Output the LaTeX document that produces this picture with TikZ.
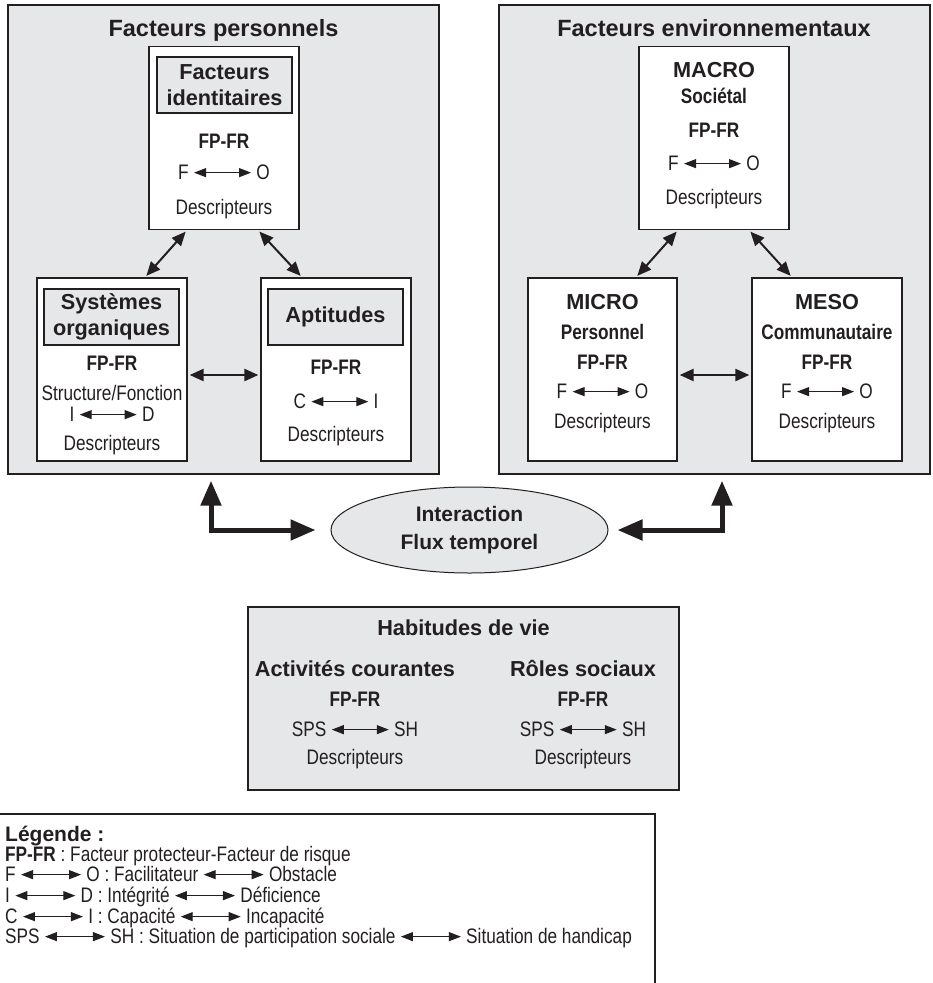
\documentclass[tikz,border=0pt]{standalone}
\usepackage{fontspec}
\setmainfont{Liberation Sans}
\newfontfamily\etroit{Liberation Sans}[FakeStretch=0.82]
\usetikzlibrary{arrows.meta,shapes.geometric}
\definecolor{encre}{RGB}{35,31,32}
\definecolor{fond}{RGB}{230,231,232}
\newcommand{\txtn}{\etroit\fontsize{21pt}{24pt}\selectfont}
\newcommand{\txth}{\rmfamily\bfseries\fontsize{21.7pt}{26pt}\selectfont}
\newcommand{\txtt}{\rmfamily\bfseries\fontsize{23.5pt}{28pt}\selectfont}
\newcommand{\txte}{\rmfamily\bfseries\fontsize{21pt}{28pt}\selectfont}
\newcommand{\fleche}[1][57pt]{\tikz[baseline=-7pt]\draw[fl] (0pt,0pt) -- (#1,0pt);}
\tikzset{
  cadre/.style={draw=encre,line width=1.3pt,fill=fond,minimum width=431pt,minimum height=469pt,inner sep=0pt},
  boite/.style={draw=encre,line width=1.3pt,fill=white,minimum width=150pt,minimum height=183pt,inner sep=0pt},
  entete/.style={draw=encre,line width=1.3pt,fill=fond,minimum width=135pt,minimum height=56pt,inner sep=0pt,align=center,text=encre,font=\txth},
  ligne/.style={anchor=mid,yshift=-4pt,inner sep=0pt,text=encre,font=\txtn},
  fl/.style={encre,line width=1.1pt,{Triangle[length=12pt,width=9pt]}-{Triangle[length=12pt,width=9pt]}},
  lien/.style={encre,line width=2pt,{Triangle[length=14pt,width=12pt]}-{Triangle[length=14pt,width=12pt]},shorten <=2pt,shorten >=2pt},
  epais/.style={encre,line width=5pt,{Triangle[length=25pt,width=20pt]}-{Triangle[length=25pt,width=20pt]}},
}
\begin{document}
\begin{tikzpicture}[x=1pt,y=-1pt]
\useasboundingbox (0,0) rectangle (933,983);
% grands cadres
\node[cadre] (perso) at (223.5,239.5) {};
\node[cadre] (envir) at (714.5,239.5) {};
\node[ligne,font=\txtt] (persoT) at (223.5,30) {Facteurs personnels};
\node[ligne,font=\txtt] (envirT) at (714,30) {Facteurs environnementaux};

% facteurs personnels
\node[boite] (ident) at (224,138) {};
\node[entete] (identT) at (224.5,85) {Facteurs\\identitaires};
\foreach \y/\t [count=\i] in {142/{\textbf{FP-FR}},173/{F \fleche{} O},208/{Descripteurs}}
  \node[ligne] (ident\i) at (224,\y) {\t};
\node[boite] (sys) at (112,369.5) {};
\node[entete] (sysT) at (111.5,317) {Systèmes\\organiques};
\foreach \y/\t [count=\i] in {364/{\textbf{FP-FR}},394/{Structure/Fonction},415/{I \fleche{} D},444/{Descripteurs}}
  \node[ligne] (sys\i) at (112,\y) {\t};
\node[boite] (apt) at (336,369.5) {};
\node[entete] (aptT) at (335.5,317) {Aptitudes};
\foreach \y/\t [count=\i] in {368/{\textbf{FP-FR}},402/{C \fleche{} I},435/{Descripteurs}}
  \node[ligne] (apt\i) at (336,\y) {\t};

\draw[lien] ([xshift=-37pt]ident.south) -- ([xshift=33pt]sys.north);
\draw[lien] ([xshift=34pt]ident.south) -- ([xshift=-34pt]apt.north);
\draw[lien,line width=2.5pt] ([yshift=-5.5pt]sys.east) -- ([yshift=-5.5pt]apt.west);

% facteurs environnementaux
\node[boite] (macro) at (714,138) {};
\foreach \y/\t [count=\i] in {71/{\txth MACRO},97/{\textbf{Sociétal}},131/{\textbf{FP-FR}},164/{F \fleche{} O},198/{Descripteurs}}
  \node[ligne] (macro\i) at (714,\y) {\t};
\node[boite,minimum width=149pt] (micro) at (602.5,369.5) {};
\foreach \y/\t [count=\i] in {303/{\txth MICRO},333/{\textbf{Personnel}},363/{\textbf{FP-FR}},392/{F \fleche{} O},422/{Descripteurs}}
  \node[ligne] (micro\i) at (602.5,\y) {\t};
\node[boite] (meso) at (827,369.5) {};
\foreach \y/\t [count=\i] in {303/{\txth MESO},333/{\textbf{Communautaire}},363/{\textbf{FP-FR}},392/{F \fleche{} O},422/{Descripteurs}}
  \node[ligne] (meso\i) at (827,\y) {\t};

\draw[lien] ([xshift=-36pt]macro.south) -- ([xshift=33.5pt]micro.north);
\draw[lien] ([xshift=35pt]macro.south) -- ([xshift=-35pt]meso.north);
\draw[lien,line width=2.5pt] ([yshift=-5.5pt]micro.east) -- ([yshift=-5.5pt]meso.west);

% interaction
\node[ellipse,draw=encre,line width=1pt,fill=fond,minimum width=277pt,minimum height=86pt,inner sep=0pt,
      align=center,text=encre,font=\txte] (inter) at (469.5,530) {Interaction\\Flux temporel};
\draw[epais,shorten <=6pt,shorten >=15pt] ([xshift=-12.5pt]perso.south) |- (inter.west);
\draw[epais,shorten <=6pt,shorten >=9pt] ([xshift=7.5pt]envir.south) |- (inter.east);

% habitudes de vie
\node[boite,fill=fond,minimum width=431pt] (habit) at (463.5,698.5) {};
\node[ligne,font=\txth] (habitT) at (463.5,629) {Habitudes de vie};
\foreach \x/\titre [count=\j] in {355/{Activités courantes},583/{Rôles sociaux}} {
  \node[ligne,font=\txth] (col\j) at (\x,670) {\titre};
  \node[ligne] (col\j a) at (\x,700) {\textbf{FP-FR}};
  \node[ligne] (col\j b) at (\x,730) {SPS \fleche{} SH};
  \node[ligne] (col\j c) at (\x,758) {Descripteurs};
}

% legende
\node[draw=encre,line width=1.3pt,fill=white,minimum width=665pt,minimum height=186pt,inner sep=0pt] (legende) at (322.5,907) {};
\node[ligne,anchor=mid west,font=\bfseries\fontsize{21pt}{24pt}\selectfont] (leg0) at (5,835) {Légende :};
\foreach \y/\t [count=\i] in {855/{\textbf{FP-FR} : Facteur protecteur-Facteur de risque},
    875/{F \fleche[60pt]{} O : Facilitateur \fleche[60pt]{} Obstacle},
    896/{I \fleche[60pt]{} D : Intégrité \fleche[60pt]{} Déficience},
    917/{C \fleche[60pt]{} I : Capacité \fleche[60pt]{} Incapacité},
    937/{SPS \fleche[60pt]{} SH : Situation de participation sociale \fleche[60pt]{} Situation de handicap}}
  \node[ligne,anchor=mid west] (leg\i) at (5,\y) {\t};
\end{tikzpicture}
\end{document}
